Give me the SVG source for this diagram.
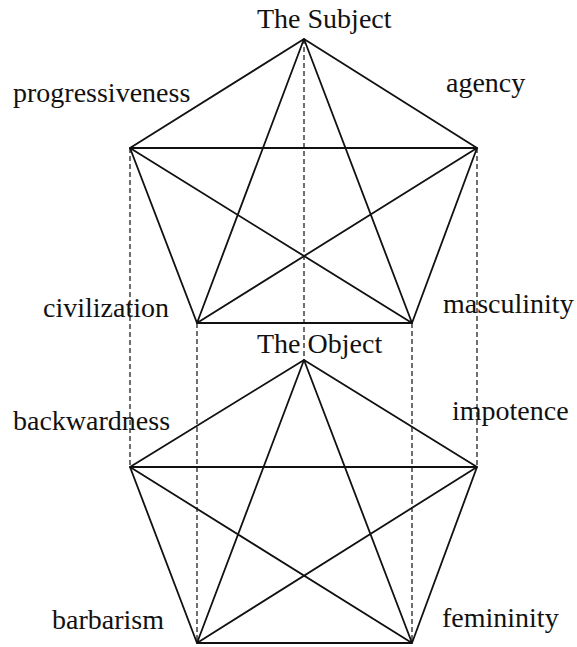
<svg xmlns="http://www.w3.org/2000/svg" width="577" height="647" viewBox="0 0 577 647">
<style>
.t{font-family:"Liberation Serif","Times New Roman",serif;font-size:28px;fill:#111}
.e{stroke:#111;stroke-width:1.8;fill:none;stroke-linejoin:round}
.d{stroke:#222;stroke-width:1.3;stroke-dasharray:5,3;fill:none}
</style>
<rect width="577" height="647" fill="#fff"/>
<g id="connectors">
<g id="dashed">
<line class="d" x1="304" y1="39" x2="304" y2="360"/>
<line class="d" x1="130" y1="148" x2="130" y2="467"/>
<line class="d" x1="477" y1="148" x2="477" y2="467"/>
<line class="d" x1="197" y1="323" x2="197" y2="643"/>
<line class="d" x1="412" y1="323" x2="412" y2="643"/>
</g>
<g id="upper-edges">
<polygon class="e" points="304,39 477,148 412,323 197,323 130,148"/>
<polygon class="e" points="304,39 412,323 130,148 477,148 197,323"/>
</g>
<g id="lower-edges">
<polygon class="e" points="304,360 477,467 412,643 197,643 130,467"/>
<polygon class="e" points="304,360 412,643 130,467 477,467 197,643"/>
</g>
</g>
<g id="the-subject"><text class="t" x="257" y="28">The Subject</text></g>
<g id="progressiveness"><text class="t" x="13" y="102">progressiveness</text></g>
<g id="agency"><text class="t" x="446" y="92">agency</text></g>
<g id="civilization"><text class="t" x="43" y="317">civilization</text></g>
<g id="masculinity"><text class="t" x="443" y="313">masculinity</text></g>
<g id="the-object"><text class="t" x="257" y="353">The Object</text></g>
<g id="backwardness"><text class="t" x="13" y="430">backwardness</text></g>
<g id="impotence"><text class="t" x="452" y="420">impotence</text></g>
<g id="barbarism"><text class="t" x="52" y="629">barbarism</text></g>
<g id="femininity"><text class="t" x="442" y="627">femininity</text></g>
</svg>
